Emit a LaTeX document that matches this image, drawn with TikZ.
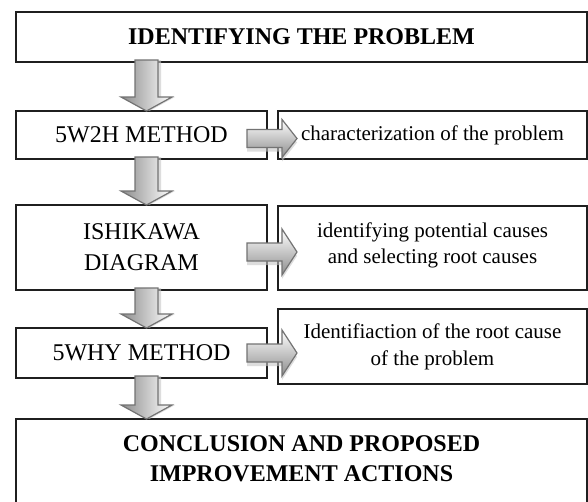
\documentclass[tikz,border=0pt]{standalone}
\usepackage{fontspec}
\setmainfont{Liberation Serif}
\usetikzlibrary{calc}
\newcommand\DArrP[3]{%
  \path[#1] let \p1=(#2.south), \p2=(#3.north) in
    (135pt,\y1+2pt) -- (158pt,\y1+2pt) -- (158pt,\y2+14pt) -- (172pt,\y2+14pt)
    -- (146.5pt,\y2) -- (121pt,\y2+14pt) -- (135pt,\y2+14pt) -- cycle;}
\newcommand\DArr[2]{\DArrP{dshad}{#1}{#2}\DArrP{darr}{#1}{#2}}
\newcommand\RArrP[5]{%
  \path[#1] let \p1=(#2.east), \p2=(#3.west), \p3=(0,#4) in
    (\x1-20pt,\y3+9pt) -- (\x2+4pt,\y3+9pt) -- (\x2+4pt,\y3+#5) -- (\x2+19pt,\y3)
    -- (\x2+4pt,\y3-#5) -- (\x2+4pt,\y3-9pt) -- (\x1-20pt,\y3-9pt) -- cycle;}
\newcommand\RArr[4]{\RArrP{rshad}{#1}{#2}{#3}{#4}\RArrP{rarr}{#1}{#2}{#3}{#4}}
\begin{document}
\begin{tikzpicture}[x=1pt,y=-1pt,
  box/.style={draw=black!88, line width=1.1pt, inner sep=0pt, outer sep=0pt, align=center},
  lbox/.style={box, minimum width=251pt, font=\fontsize{24}{30.7}\selectfont},
  rbox/.style={box, minimum width=309pt, font=\fontsize{21}{26.7}\selectfont},
  wbox/.style={box, minimum width=571pt, font=\fontsize{24}{30}\selectfont\bfseries},
  arr/.style={draw=black!55, line width=1.2pt, line join=miter},
  darr/.style={arr, left color=black!45, right color=white},
  rarr/.style={arr, top color=white, bottom color=black!45},
  dshad/.style={fill=black!22, opacity=.6, shift={(3pt,-3pt)}},
  rshad/.style={fill=black!22, opacity=.6, shift={(2pt,-4pt)}}
]
\useasboundingbox (0,0) rectangle (588,501);
\fill[white] (0,0) rectangle (588,501);
% boxes
\node[wbox, minimum height=50pt] (top) at (301.5,37) {IDENTIFYING THE PROBLEM};
\node[lbox, minimum height=48pt] (m1) at (141.5,135) {5W2H METHOD};
\node[rbox, minimum height=48pt] (r1) at (432.5,135) {characterization of the problem};
\node[lbox, minimum height=85pt] (m2) at (141.5,247.5) {ISHIKAWA\\DIAGRAM};
\node[rbox, minimum height=84pt, text depth=10pt] (r2) at (432.5,248) {identifying potential causes\\and selecting root causes};
\node[lbox, minimum height=50pt] (m3) at (141.5,353) {5WHY METHOD};
\node[rbox, minimum height=75pt] (r3) at (432.5,346.5) {Identifiaction of the root cause\\of the problem};
\node[wbox, minimum height=92pt, anchor=north, text depth=12pt] (bot) at (301.5,419) {CONCLUSION AND PROPOSED\\IMPROVEMENT ACTIONS};
% down arrows
\DArr{top}{m1}
\DArr{m1}{m2}
\DArr{m2}{m3}
\DArr{m3}{bot}
% right arrows
\RArr{m1}{r1}{138.5}{19pt}
\RArr{m2}{r2}{252}{23pt}
\RArr{m3}{r3}{353}{23pt}
\end{tikzpicture}
\end{document}
